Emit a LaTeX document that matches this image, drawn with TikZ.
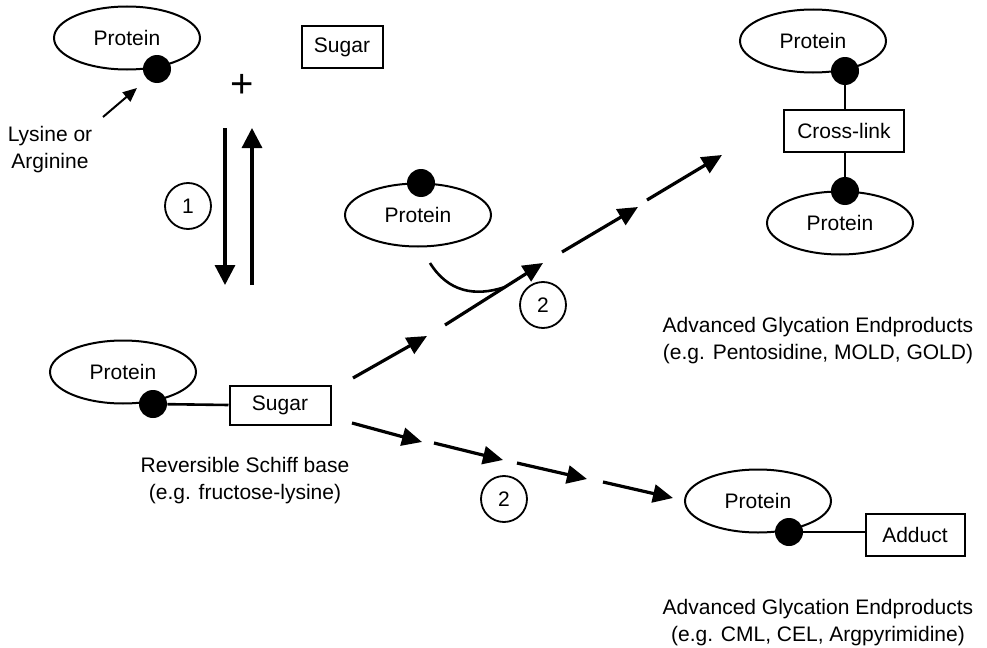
\documentclass[tikz,border=0pt]{standalone}
\usepackage{fontspec}
\setmainfont{Liberation Sans}
\usetikzlibrary{shapes.geometric,arrows.meta}
\begin{document}
\begin{tikzpicture}[x=0.5pt,y=-0.5pt,
  every node/.style={font=\fontsize{10.5}{13.5}\selectfont},
  prot/.style={ellipse,draw,line width=1pt,minimum width=73pt,minimum height=31.5pt,inner sep=0pt},
  dot/.style={circle,fill=black,minimum size=14pt,inner sep=0pt},
  box/.style={rectangle,draw,line width=1pt,minimum height=21pt,inner sep=0pt},
  num/.style={circle,draw,line width=0.9pt,minimum size=23pt,inner sep=0pt},
  bond/.style={line width=1.3pt},
  rx/.style={line width=1.6pt,-{Triangle[length=10pt,width=9pt]}},
  txt/.style={align=center}]
\useasboundingbox (0,0) rectangle (987,648);

% top-left protein + sugar
\node[prot] (p1) at (127,38) {Protein};
\node[dot] (d1) at (157,69) {};
\node[txt] (lys) at (50,150) {Lysine or\\Arginine};
\coordinate (la) at (103,117);
\coordinate (lb) at (137,88);
\draw[line width=1pt,-{Triangle[length=7pt,width=6pt]}] (la) -- (lb);
\node (plus) at (242,86) {\fontsize{20}{20}\selectfont +};
\node[box,minimum width=40.5pt] (s1) at (342,47) {Sugar};

% reversible step
\coordinate (v1a) at (225,128);
\coordinate (v1b) at (225,285);
\coordinate (v2a) at (252,285);
\coordinate (v2b) at (252,128);
\draw[line width=1.6pt,-{Triangle[length=10pt,width=10pt]}] (v1a) -- (v1b);
\draw[line width=1.6pt,-{Triangle[length=10pt,width=10pt]}] (v2a) -- (v2b);
\node[num] (n1) at (188,206) {1};

% Schiff base
\node[prot] (p2) at (123,372) {Protein};
\node[dot] (d2) at (153,404) {};
\node[box,minimum width=50.5pt,minimum height=19.5pt] (s2) at (280,405) {Sugar};
\draw[bond] (d2) -- (s2.west);
\node[txt] (schiff) at (245,481) {Reversible Schiff base\\(e.g. fructose-lysine)};

% upper chain
\coordinate (u1) at (353,378);
\coordinate (u2) at (427,336);
\coordinate (u3) at (445,325);
\coordinate (u4) at (543,263);
\coordinate (u5) at (562,252);
\coordinate (u6) at (638,207);
\coordinate (u7) at (647,200);
\coordinate (u8) at (722,155);
\draw[rx] (u1) -- (u2);
\draw[rx] (u3) -- (u4);
\draw[rx] (u5) -- (u6);
\draw[rx] (u7) -- (u8);

% second protein joining
\node[prot] (p3) at (418,215) {Protein};
\node[dot] (d3) at (421,183) {};
\coordinate (c1) at (430,263);
\coordinate (c2) at (505,287);
\draw[line width=1.3pt] (c1) .. controls (448,292) and (475,297) .. (c2);
\node[num] (n2a) at (543,305) {2};

% cross-link product
\node[prot] (p4) at (813,41) {Protein};
\node[dot] (d4) at (845,71) {};
\node[box,minimum width=60pt] (cl) at (844,131) {Cross-link};
\node[prot] (p5) at (840,223) {Protein};
\node[dot] (d5) at (845,191) {};
\draw[bond] (d4) -- (cl.north -| d4);
\draw[bond] (cl.south -| d5) -- (d5);
\node[txt] (age1) at (818,341) {Advanced Glycation Endproducts\\(e.g. Pentosidine, MOLD, GOLD)};

% lower chain
\coordinate (w1) at (352,423);
\coordinate (w2) at (422,442);
\coordinate (w3) at (434,443);
\coordinate (w4) at (503,460);
\coordinate (w5) at (517,463);
\coordinate (w6) at (587,479);
\coordinate (w7) at (603,482);
\coordinate (w8) at (673,498);
\draw[rx] (w1) -- (w2);
\draw[rx] (w3) -- (w4);
\draw[rx] (w5) -- (w6);
\draw[rx] (w7) -- (w8);
\node[num] (n2b) at (504,499) {2};

% adduct product
\node[prot] (p6) at (758,501) {Protein};
\node[dot] (d6) at (789,532) {};
\node[box,minimum width=49.5pt] (ad) at (915,535) {Adduct};
\draw[bond] (d6.east) -- (ad.west |- d6.east);
\node[txt] (age2) at (818,623) {Advanced Glycation Endproducts\\(e.g. CML, CEL, Argpyrimidine)};
\end{tikzpicture}
\end{document}
